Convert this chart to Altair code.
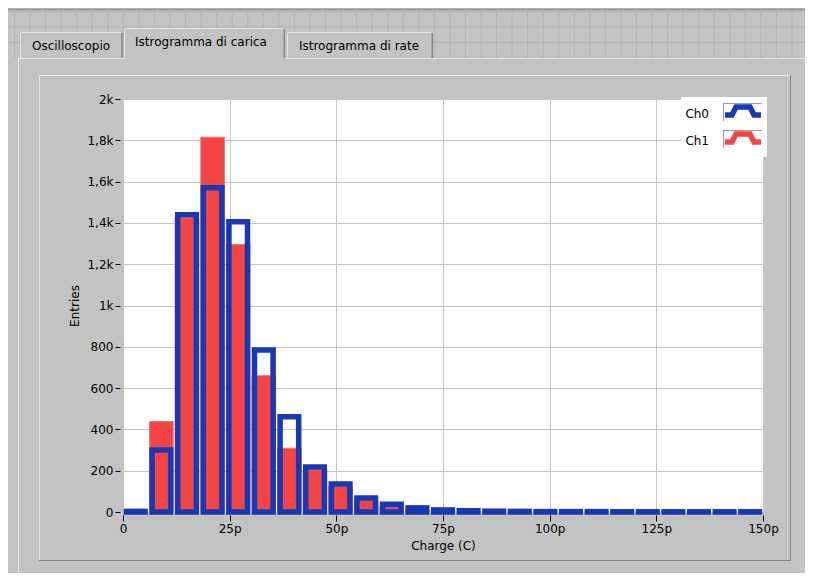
import altair as alt
import pandas as pd

# ---------------- data ----------------
BIN_WIDTH = 6  # pC per bin
BIN_START = [0, 6, 12, 18, 24, 30, 36, 42, 48, 54, 60, 66, 72, 78, 84, 90,
             96, 102, 108, 114, 120, 126, 132, 138, 144]
CH0 = [3, 300, 1440, 1570, 1405, 785, 461, 218, 136, 68, 38, 20, 10, 6, 4, 3,
       2, 2, 2, 1, 1, 1, 1, 1, 1]
CH1 = [1, 438, 1425, 1815, 1295, 660, 309, 204, 123, 58, 26, 12, 6, 3, 2, 1,
       1, 0, 0, 0, 0, 0, 0, 0, 0]
X_TICKS = [0, 25, 50, 75, 100, 125, 150]
Y_TICKS = [0, 200, 400, 600, 800, 1000, 1200, 1400, 1600, 1800, 2000]
TABS = ["Oscilloscopio", "Istrogramma di carica", "Istrogramma di rate"]
SERIES = ["Ch0", "Ch1"]

# ---------------- style ----------------
FONT = "DejaVu Sans"
BG = "#c3c3c3"
BLUE = "#1838b4"
RED = "#f44444"
GRIDC = "#c6c6c6"
LIGHT = "#e4e4e4"
DARK = "#878787"

# page position of plot origin (page has 8px margin)
OX, OY = 123, 99


def rx(v):
    return v - OX


def ry(v):
    return v - OY


# ---------------- window chrome (LabVIEW panel) ----------------
pat = []
k = 0
while 14.5 + 15.55 * k < 813:
    xx = 14.5 + 15.55 * k
    pat.append(dict(x=rx(xx), x2=rx(xx), y=ry(11), y2=ry(58)))
    k += 1
for yy in [12, 27, 42.5]:
    pat.append(dict(x=rx(8), x2=rx(813), y=ry(yy), y2=ry(yy)))
pattern = alt.Chart(pd.DataFrame(pat)).mark_rule(color="#b3b3b3", strokeWidth=1).encode(
    x=alt.X("x:Q", scale=None), x2="x2:Q",
    y=alt.Y("y:Q", scale=None), y2="y2:Q")

rects = pd.DataFrame([
    dict(x=rx(20), x2=rx(123), y=ry(32), y2=ry(58), c=BG),
    dict(x=rx(124), x2=rx(285), y=ry(28), y2=ry(60), c=BG),
    dict(x=rx(287), x2=rx(433), y=ry(32), y2=ry(58), c=BG),
    dict(x=rx(681), x2=rx(767), y=ry(97), y2=ry(157), c="#ffffff"),
])
rect_layer = alt.Chart(rects).mark_rect().encode(
    x=alt.X("x:Q", scale=None), x2="x2:Q",
    y=alt.Y("y:Q", scale=None), y2="y2:Q",
    fill=alt.Fill("c:N", scale=None))

E = []


def edge(x1, y1, x2, y2, c, w=1.0):
    E.append(dict(x=rx(x1), y=ry(y1), x2=rx(x2), y2=ry(y2), c=c, w=w))


edge(8, 9.5, 813, 9.5, "#999999", 2)
# panel border
edge(18, 58.5, 124, 58.5, LIGHT)
edge(285, 58.5, 813, 58.5, LIGHT)
edge(18.5, 58, 18.5, 587, LIGHT)
# tabs
edge(20.5, 33, 20.5, 58, LIGHT)
edge(21, 32.5, 121, 32.5, LIGHT)
edge(122, 33, 122, 58, DARK, 1.5)
edge(124.5, 29, 124.5, 59, LIGHT)
edge(125, 28.5, 283, 28.5, LIGHT)
edge(284.3, 29, 284.3, 58, DARK, 1.5)
edge(287.5, 33, 287.5, 58, LIGHT)
edge(288, 32.5, 431, 32.5, LIGHT)
edge(432.3, 33, 432.3, 58, DARK, 1.5)
# inner graph frame
edge(39, 75.5, 790, 75.5, LIGHT)
edge(39.5, 75, 39.5, 560, LIGHT)
edge(790.5, 75, 790.5, 561, DARK)
edge(39, 560.5, 791, 560.5, DARK)
# legend icon frames
edge(723.5, 103, 723.5, 121, "#9c9c9c")
edge(723, 103.5, 762, 103.5, "#9c9c9c")
edge(723.5, 130, 723.5, 148, "#9c9c9c")
edge(723, 130.5, 762, 130.5, "#9c9c9c")
edge_layer = alt.Chart(pd.DataFrame(E)).mark_rule().encode(
    x=alt.X("x:Q", scale=None), x2="x2:Q",
    y=alt.Y("y:Q", scale=None), y2="y2:Q",
    color=alt.Color("c:N", scale=None),
    strokeWidth=alt.StrokeWidth("w:Q", scale=None))

tab_text = pd.DataFrame(dict(
    x=[rx(71), rx(201), rx(359)],
    y=[ry(45.5), ry(42), ry(45.5)],
    t=TABS))
tab_layer = alt.Chart(tab_text).mark_text(
    font=FONT, fontSize=12, color="black", align="center", baseline="middle").encode(
    x=alt.X("x:Q", scale=None), y=alt.Y("y:Q", scale=None), text="t:N")

leg_text = pd.DataFrame(dict(x=[rx(709), rx(709)], y=[ry(113.5), ry(140.5)], t=SERIES))
leg_layer = alt.Chart(leg_text).mark_text(
    font=FONT, fontSize=12, color="black", align="right", baseline="middle").encode(
    x=alt.X("x:Q", scale=None), y=alt.Y("y:Q", scale=None), text="t:N")

icon_rows = []
for s, col, dy in [("Ch0", BLUE, 0), ("Ch1", RED, 27)]:
    pts = [(725, 115), (732, 115), (736, 107), (750, 107), (754, 115), (761, 115)]
    for i, (px, py) in enumerate(pts):
        icon_rows.append(dict(px=rx(px), py=ry(py + dy), c=col, s=s, k=i))
icon_layer = alt.Chart(pd.DataFrame(icon_rows)).mark_line(
    strokeWidth=5.5, strokeJoin="miter", strokeCap="butt").encode(
    x=alt.X("px:Q", scale=None), y=alt.Y("py:Q", scale=None),
    color=alt.Color("c:N", scale=None), detail="s:N", order="k:Q")

# ---------------- histogram ----------------
df = pd.DataFrame({
    "lo": BIN_START,
    "hi": [b + BIN_WIDTH for b in BIN_START],
    "Ch0": CH0,
    "Ch1": CH1,
})

xscale = alt.Scale(domain=[0, 150], nice=False, zero=False)
yscale = alt.Scale(domain=[0, 2000], nice=False)

xaxis = alt.Axis(
    values=X_TICKS, title="Charge (C)",
    labelExpr="datum.value == 0 ? '0' : datum.value + 'p'",
    offset=3, tickSize=6, labelPadding=2, titlePadding=6, labelFlush=False,
    domain=False, grid=True, gridColor=GRIDC, tickColor="black",
    labelColor="black", titleColor="black", labelFont=FONT, titleFont=FONT,
    labelFontSize=12, titleFontSize=12, titleFontWeight="normal")
yaxis = alt.Axis(
    values=Y_TICKS, title="Entries",
    labelExpr="datum.value == 0 ? '0' : datum.value < 1000 ? format(datum.value, 'd') : "
              "replace(format(datum.value / 1000, '.1~f'), '.', ',') + 'k'",
    offset=3, tickSize=5, labelPadding=2, titlePadding=5,
    domain=False, grid=True, gridColor=GRIDC, tickColor="black",
    labelColor="black", titleColor="black", labelFont=FONT, titleFont=FONT,
    labelFontSize=12, titleFontSize=12, titleFontWeight="normal")

red = alt.Chart(df).mark_rect(
    fill=RED, stroke="#e07878", strokeWidth=1, xOffset=1, x2Offset=-1).encode(
    x=alt.X("lo:Q", scale=xscale, axis=xaxis), x2="hi:Q",
    y=alt.Y("Ch1:Q", scale=yscale, axis=yaxis), y2=alt.datum(0))

blue = alt.Chart(df).mark_rect(
    filled=False, stroke=BLUE, strokeWidth=5.5, xOffset=3.5, x2Offset=-3.5).encode(
    x=alt.X("lo:Q", scale=xscale, axis=xaxis), x2="hi:Q",
    y=alt.Y("Ch0:Q", scale=yscale, axis=yaxis), y2=alt.datum(0))

chart = alt.layer(
    pattern, rect_layer, edge_layer, tab_layer, red, blue, leg_layer, icon_layer
).properties(
    width=640, height=413,
    padding={"left": 115, "top": 91, "right": 42, "bottom": 61},
    autosize=alt.AutoSizeParams(type="none"),
    background=BG,
).configure(font=FONT).configure_view(fill="white", stroke="transparent")

chart.save("out.html", embed_options={"renderer": "svg", "actions": False})
